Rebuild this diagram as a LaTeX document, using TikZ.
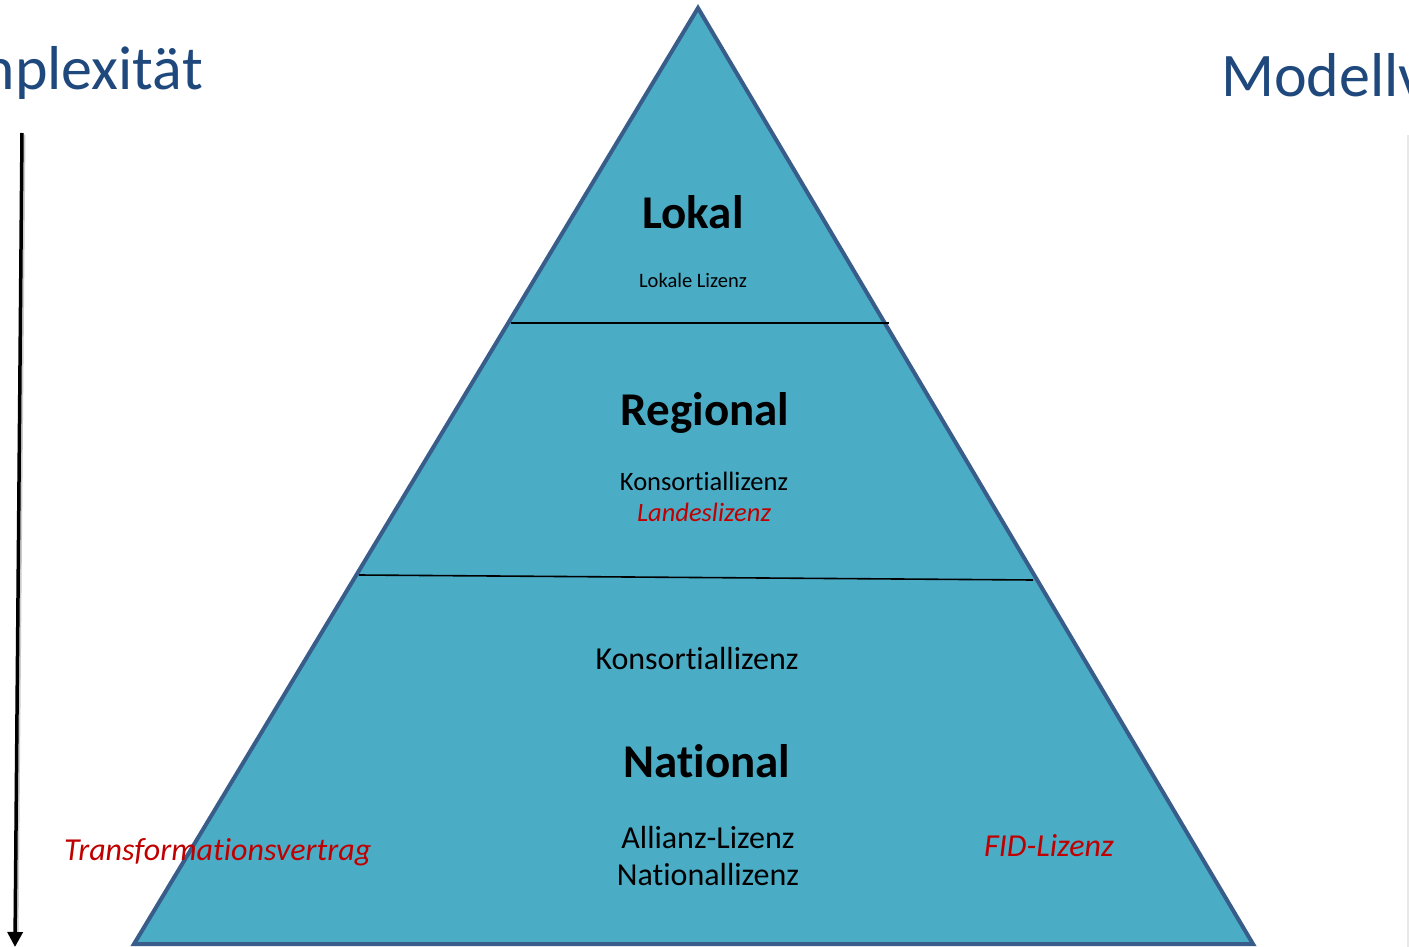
\documentclass[tikz,border=0pt]{standalone}
\usepackage{fontspec}
\setmainfont{Carlito}[Ligatures=NoCommon]
\usetikzlibrary{arrows.meta,calc}
\definecolor{titleblue}{HTML}{1F497D}
\definecolor{pyrfill}{HTML}{4BACC6}
\definecolor{pyredge}{HTML}{385D8A}
\definecolor{redtxt}{HTML}{C00000}
\tikzset{
  head/.style={font=\bfseries\fontsize{47}{56}\selectfont, anchor=base, inner sep=0pt},
  sub/.style={font=\fontsize{#1}{#1}\selectfont, anchor=base, inner sep=0pt},
  redsub/.style={font=\itshape\fontsize{#1}{#1}\selectfont, text=redtxt, anchor=base, inner sep=0pt},
  title/.style={font=\fontsize{62}{70}\selectfont, text=titleblue, inner sep=0pt},
  divider/.style={black, line width=1.6pt},
}
\begin{document}
\begin{tikzpicture}[x=1pt,y=-1pt]
\useasboundingbox (0,0) rectangle (1409,947);
\clip (0,0) rectangle (1409,947);
\fill[white] (0,0) rectangle (1409,947);
% titles
\node[title, anchor=base east] (komp) at (203,90) {Komplexität};
\node[title, anchor=base west] (mod) at (1221,97) {Modellv};
% faint shadow at right edge
\draw[black!9, line width=3pt] (1408,135) -- (1408,947);
% arrow
\coordinate (atop) at (22,133);
\coordinate (abot) at (15,947);
\draw[black!20, line width=4pt] ($(atop)+(1.5,1.5)$) -- ($(abot)+(1.5,-10)$);
\draw[black, line width=3.5pt, -{Triangle[length=15pt,width=15pt]}] (atop) -- (abot);
% pyramid
\coordinate (apex) at (698,8);
\coordinate (bl) at (134,944);
\coordinate (br) at (1253,944);
\draw[pyredge, fill=pyrfill, line width=4pt, line join=miter] (apex) -- (bl) -- (br) -- cycle;
% dividers
\coordinate (d1l) at (511,323);
\coordinate (d1r) at (889,323);
\coordinate (d2l) at (359,575);
\coordinate (d2r) at (1033,580);
\draw[divider] (d1l) -- (d1r);
\draw[divider] (d2l) -- (d2r);
% texts
\node[head] (lokal) at (693,229) {Lokal};
\node[sub=20.5] (lokliz) at (693,287) {Lokale Lizenz};
\node[head] (regional) at (705,425) {Regional};
\node[sub=26.5] (konsreg) at (704,490) {Konsortiallizenz};
\node[redsub=26.5] (landes) at (704,521) {Landeslizenz};
\node[sub=32] (konsnat) at (697,669) {Konsortiallizenz};
\node[head] (national) at (707,777) {National};
\node[sub=32] (allianz) at (708,848) {Allianz-Lizenz};
\node[sub=32] (natliz) at (708,885) {Nationallizenz};
\node[redsub=32, anchor=base west] (transf) at (64,860) {Transformationsvertrag};
\node[redsub=32, anchor=base west] (fid) at (984,856) {FID-Lizenz};
\end{tikzpicture}
\end{document}
